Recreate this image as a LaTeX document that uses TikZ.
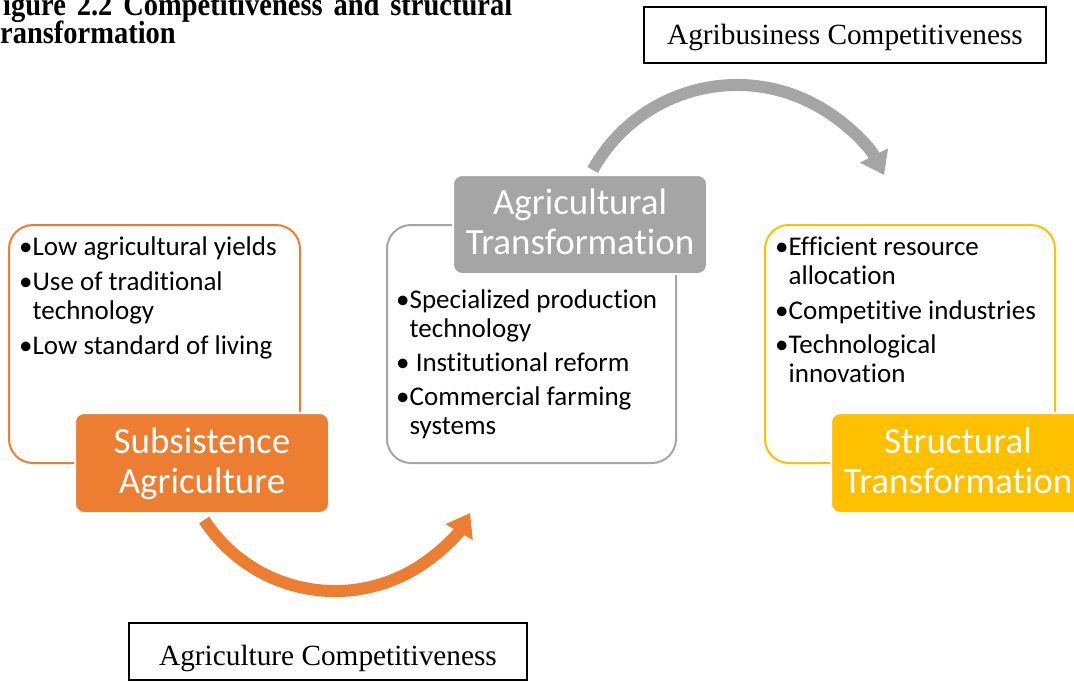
\documentclass[tikz,border=0pt]{standalone}
\usepackage{fontspec}
\setmainfont{Liberation Serif}
\newfontfamily\calib[Ligatures=NoCommon]{Carlito}
\newfontfamily\titlefont[FakeStretch=0.89]{Liberation Serif}
\usetikzlibrary{arrows.meta}
\definecolor{aorange}{HTML}{ED7D31}
\definecolor{agray}{HTML}{A5A5A5}
\definecolor{ayellow}{HTML}{FFC000}
\begin{document}
\begin{tikzpicture}[x=1pt,y=-1pt,
  outline/.style={draw=#1, line width=2pt, rounded corners=24pt, fill=white, inner sep=0pt},
  headbox/.style={fill=#1, draw=white, line width=2pt, rounded corners=9pt, minimum width=254pt, minimum height=100pt, text=white, font=\calib\fontsize{37}{40}\selectfont, align=center, inner sep=0pt},
  bline/.style={anchor=base west, inner sep=0pt, font=\calib\fontsize{27}{29}\selectfont},
  capbox/.style={draw=black, line width=1.6pt, inner sep=0pt, font=\fontsize{29.3}{32}\selectfont},
  flowarrow/.style={draw=#1, line width=12pt, -{Triangle[width=30pt,length=22pt]}},
  titleline/.style={anchor=base west, inner sep=0pt, font=\titlefont\bfseries\fontsize{32}{32}\selectfont}
]
\useasboundingbox (0,0) rectangle (1074,681);
\clip (0,0) rectangle (1074,681);

% arrows
\coordinate (oS) at (204.2,520);
\draw[flowarrow=aorange] (oS) arc[start angle=147, end angle=30, radius=156];
\coordinate (gS) at (592.7,170);
\draw[flowarrow=agray] (gS) arc[start angle=209, end angle=333, radius=165];

% outline boxes
\node[outline=aorange, minimum width=291pt, minimum height=238pt] (ob1) at (154.5,344) {};
\node[outline=agray, minimum width=289pt, minimum height=238pt] (ob2) at (531.5,344) {};
\node[outline=ayellow, minimum width=290pt, minimum height=238pt] (ob3) at (910,344) {};

% heading boxes
\node[headbox=aorange] (h1) at (202,463) {\rule{0pt}{28pt}Subsistence\\Agriculture\rule[-8pt]{0pt}{8pt}};
\node[headbox=agray, minimum height=99pt] (h2) at (580,224.5) {\rule{0pt}{28pt}Agricultural\\Transformation\rule[-8pt]{0pt}{8pt}};
\node[headbox=ayellow] (h3) at (958,463) {\rule{0pt}{28pt}Structural\\Transformation\rule[-8pt]{0pt}{8pt}};

% bullets left
\node[bline] (s1) at (19,255) {•Low agricultural yields};
\node[bline] (s2) at (19,290) {•Use of traditional};
\node[bline] (s3) at (19,319) {\phantom{•}technology};
\node[bline] (s4) at (19,354) {•Low standard of living};
% bullets middle
\node[bline] (a1) at (396,308) {•Specialized production};
\node[bline] (a2) at (396,337) {\phantom{•}technology};
\node[bline] (a3) at (396,371) {• Institutional reform};
\node[bline] (a4) at (396,405) {•Commercial farming};
\node[bline] (a5) at (396,434) {\phantom{•}systems};
% bullets right
\node[bline] (t1) at (775,255) {•Efficient resource};
\node[bline] (t2) at (775,284) {\phantom{•}allocation};
\node[bline] (t3) at (775,319) {•Competitive industries};
\node[bline] (t4) at (775,353) {•Technological};
\node[bline] (t5) at (775,382) {\phantom{•}innovation};

% caption boxes
\node[capbox, minimum width=402pt, minimum height=56pt, text height=22pt, text depth=3.4pt] (c1) at (845,35) {Agribusiness Competitiveness};
\node[capbox, minimum width=398pt, minimum height=57pt, text height=30pt, text depth=3pt] (c2) at (328,651.5) {Agriculture Competitiveness};

% title
\node[titleline] (ti1) at (3,15) {\makebox[509pt][s]{igure 2.2 Competitiveness and structural}};
\node[titleline] (ti2) at (0,43) {ransformation};
\end{tikzpicture}
\end{document}
